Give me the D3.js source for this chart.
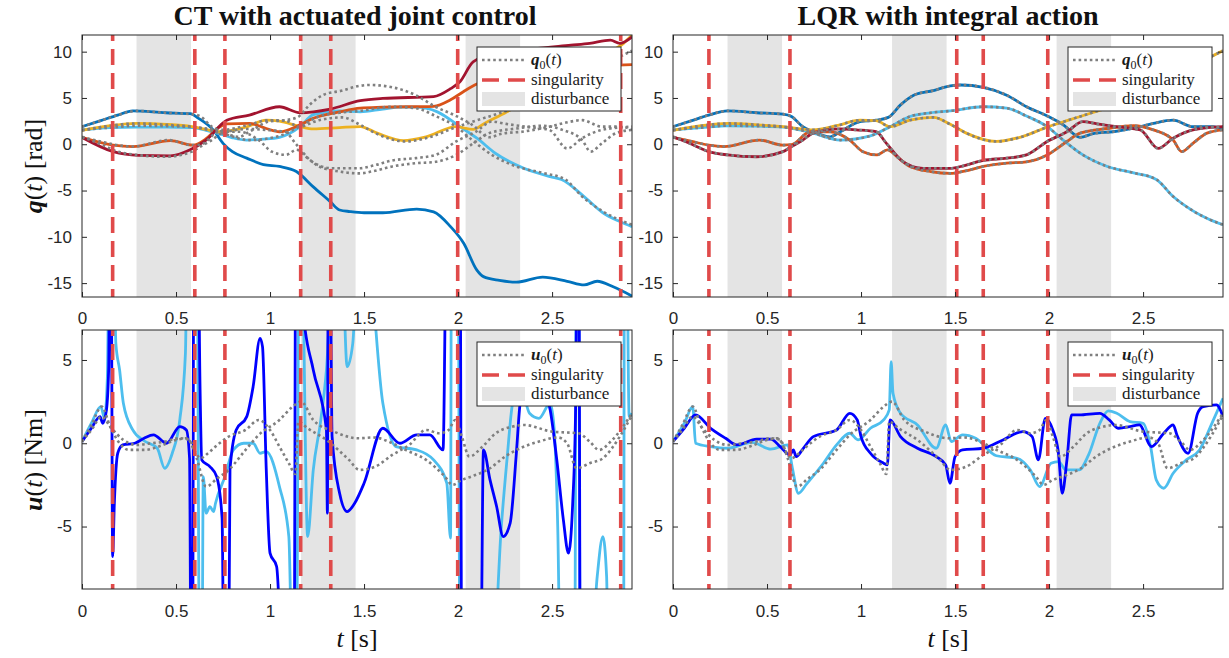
<!DOCTYPE html>
<html>
<head>
<meta charset="utf-8">
<script src="https://cdn.jsdelivr.net/npm/d3@7"></script>
<style>
  body { margin: 0; background: #fff; }
  svg { display: block; }
</style>
</head>
<body>
<svg id="chart" width="1229" height="658"></svg>
<script>
// ---------- time axis, events ----------
const tDomain = [0, 2.925];
const xTicks = [0, 0.5, 1, 1.5, 2, 2.5];
const qTicks = [-15, -10, -5, 0, 5, 10];
const uTicks = [-5, 0, 5];
const disturbances = [[0.29, 0.58], [1.165, 1.455], [2.04, 2.33]];
const singCT  = [0.163, 0.60, 0.76, 1.163, 1.323, 1.998, 2.865];
const singLQR = [0.191, 0.622, 1.509, 1.65, 1.993];

// ---------- reference joint trajectories q0(t) [rad] ----------
const q0_1 = [[0,1.9],[0.1,2.55],[0.19,3.15],[0.29,3.6],[0.445,3.4],[0.585,3.25],[0.63,3.0],[0.69,1.9],[0.745,1.35],[0.835,0.8],[0.89,1.35],[0.995,2.45],[1.08,2.6],[1.145,2.9],[1.21,4.25],[1.28,5.3],[1.385,5.8],[1.475,6.3],[1.53,6.4],[1.65,6.15],[1.775,5.3],[1.88,4.05],[1.99,3.05],[2.075,2.1],[2.165,0.75],[2.235,1.15],[2.34,1.35],[2.485,1.9],[2.555,2.25],[2.66,2.6],[2.765,1.9],[2.87,1.9],[2.925,1.55]];
const q0_2 = [[0,1.55],[0.15,1.8],[0.29,2.0],[0.45,1.95],[0.585,1.85],[0.66,1.6],[0.745,1.2],[0.89,0.45],[1.05,0.9],[1.155,1.9],[1.26,3.0],[1.37,3.4],[1.475,3.6],[1.65,4.05],[1.775,3.9],[1.88,3.05],[1.99,1.9],[2.075,0.45],[2.18,-1.15],[2.31,-2.4],[2.45,-3.1],[2.57,-3.8],[2.66,-5.65],[2.77,-7.25],[2.85,-8.1],[2.925,-8.7]];
const q0_3 = [[0,1.5],[0.15,2.0],[0.29,2.25],[0.45,2.1],[0.585,1.9],[0.745,1.55],[0.87,2.0],[0.995,2.6],[1.08,2.55],[1.155,1.9],[1.26,2.6],[1.385,2.9],[1.475,2.15],[1.56,1.2],[1.72,0.3],[1.845,0.75],[1.99,1.85],[2.095,2.55],[2.22,3.35],[2.325,4.05],[2.45,5.3],[2.6,6.9],[2.75,8.4],[2.875,9.6],[2.925,10.1]];
const q0_4 = [[0,0.75],[0.1,0.3],[0.19,-0.1],[0.27,-0.25],[0.46,0.45],[0.585,-0.1],[0.63,-0.05],[0.73,1.35],[0.835,1.35],[0.94,0.45],[1.01,-0.8],[1.085,-1.15],[1.14,-0.6],[1.2,-1.5],[1.26,-2.4],[1.37,-2.95],[1.475,-3.15],[1.55,-2.9],[1.65,-2.4],[1.775,-2.05],[1.88,-1.9],[1.99,-1.15],[2.095,0.3],[2.165,1.2],[2.31,1.7],[2.45,2.0],[2.555,1.55],[2.66,0.45],[2.705,-0.8],[2.765,0.1],[2.84,1.2],[2.925,1.55]];
const q0_5 = [[0,0.8],[0.1,0.0],[0.19,-0.8],[0.29,-1.15],[0.445,-1.35],[0.585,-0.8],[0.63,-0.25],[0.69,0.45],[0.745,1.2],[0.89,1.65],[0.975,1.55],[1.08,1.35],[1.135,0.1],[1.225,-1.9],[1.33,-2.6],[1.475,-2.6],[1.55,-2.3],[1.65,-1.75],[1.775,-1.5],[1.88,-1.15],[1.99,0.3],[2.095,1.35],[2.18,2.45],[2.255,2.2],[2.375,1.85],[2.485,1.55],[2.58,-0.45],[2.66,0.65],[2.765,1.55],[2.925,1.9]];

// ---------- CT with actuated joint control: joint angles [rad] ----------
const qCT_1 = [[0,1.9],[0.1,2.55],[0.19,3.15],[0.27,3.6],[0.445,3.4],[0.575,3.3],[0.62,2.8],[0.7,1.5],[0.75,0.1],[0.8,-0.8],[0.876,-1.5],[0.965,-2.2],[1.05,-2.4],[1.14,-2.95],[1.23,-4.6],[1.32,-6.2],[1.37,-7.1],[1.425,-7.27],[1.5,-7.4],[1.6,-7.4],[1.78,-7.0],[1.87,-7.3],[1.96,-8.9],[2.03,-10.7],[2.1,-13.6],[2.135,-14.3],[2.22,-14.7],[2.31,-14.9],[2.45,-14.35],[2.58,-14.8],[2.67,-15.2],[2.74,-14.8],[2.825,-15.4],[2.925,-16.4]];
const qCT_2 = [[0,1.55],[0.15,1.8],[0.29,1.85],[0.45,1.85],[0.585,1.8],[0.66,1.5],[0.72,1.2],[0.8,0.7],[0.876,0.45],[0.96,0.55],[1.05,0.75],[1.16,1.9],[1.23,3.2],[1.37,3.6],[1.48,3.5],[1.6,3.8],[1.69,4.0],[1.78,4.0],[1.89,3.5],[2.01,1.9],[2.1,0.65],[2.2,-1.0],[2.35,-2.6],[2.49,-3.5],[2.55,-3.8],[2.67,-5.65],[2.77,-7.4],[2.86,-8.35],[2.925,-8.9]];
const qCT_3 = [[0,1.5],[0.15,2.0],[0.29,2.25],[0.45,2.15],[0.585,1.9],[0.66,1.6],[0.72,1.35],[0.8,1.5],[0.88,1.9],[0.98,2.6],[1.05,2.5],[1.16,1.9],[1.23,1.65],[1.37,1.8],[1.48,1.9],[1.57,1.2],[1.71,0.4],[1.83,0.8],[1.99,1.9],[2.08,1.6],[2.14,2.25],[2.26,3.5],[2.31,4.1],[2.45,6.0],[2.6,7.8],[2.75,9.5],[2.88,10.9],[2.925,11.8]];
const qCT_4 = [[0,0.75],[0.166,-0.1],[0.27,-0.25],[0.47,0.4],[0.59,-0.1],[0.66,0.6],[0.72,1.7],[0.77,2.2],[0.89,2.25],[0.98,1.7],[1.05,1.35],[1.16,2.1],[1.23,2.8],[1.37,3.5],[1.48,3.9],[1.6,4.0],[1.87,4.1],[1.96,4.8],[2.03,5.7],[2.1,6.5],[2.2,7.2],[2.4,7.8],[2.6,8.2],[2.8,8.5],[2.925,8.6]];
const qCT_5 = [[0,0.75],[0.166,-0.8],[0.3,-1.2],[0.47,-1.25],[0.575,-0.6],[0.66,0.45],[0.77,2.6],[0.89,3.15],[1.05,4.05],[1.16,3.4],[1.32,3.8],[1.48,4.7],[1.6,4.95],[1.87,5.15],[1.96,6.0],[2.01,6.75],[2.08,8.9],[2.2,9.8],[2.4,10.3],[2.6,10.7],[2.7,10.9],[2.81,11.25],[2.86,10.9],[2.925,11.6]];

// ---------- LQR with integral action: joint angles track q0(t) ----------
const qLQR_1 = q0_1, qLQR_2 = q0_2, qLQR_3 = q0_3, qLQR_4 = q0_4, qLQR_5 = q0_5;

// ---------- reference torques u0(t) [Nm] ----------
const u0_1 = [[0,0.1],[0.05,1.1],[0.105,2.2],[0.15,1.0],[0.2,0.0],[0.25,-0.4],[0.33,-0.4],[0.42,-0.15],[0.5,0.2],[0.56,0.3],[0.6,-0.5],[0.63,-0.9],[0.67,-0.6],[0.72,-0.1],[0.78,0.4],[0.87,0.8],[0.94,1.4],[1.0,0.8],[1.05,-0.2],[1.1,-1.2],[1.135,-1.85],[1.15,1.3],[1.2,0.9],[1.3,0.2],[1.42,-1.0],[1.475,-1.6],[1.56,-1.4],[1.65,-0.7],[1.74,-0.1],[1.83,0.8],[1.9,0.6],[1.95,0.8],[1.985,1.4],[2.02,0.4],[2.06,-0.8],[2.13,-0.2],[2.2,0.6],[2.29,1.0],[2.35,1.1],[2.5,0.7],[2.64,0.6],[2.7,0.1],[2.75,-0.4],[2.82,0.2],[2.925,1.8]];
const u0_2 = [[0,0.1],[0.05,0.8],[0.105,1.6],[0.15,1.0],[0.22,0.2],[0.29,-0.1],[0.37,0.0],[0.44,0.1],[0.52,0.3],[0.57,0.2],[0.61,-0.9],[0.66,-2.6],[0.72,-2.1],[0.78,-1.6],[0.87,-0.4],[0.94,0.5],[1.05,1.4],[1.12,2.2],[1.165,2.5],[1.23,1.4],[1.34,0.7],[1.47,0.3],[1.55,0.35],[1.65,0.0],[1.72,-0.4],[1.83,-1.0],[1.93,-2.0],[1.97,-2.5],[2.02,-2.2],[2.07,-2.0],[2.17,-1.5],[2.25,-0.8],[2.33,-0.3],[2.43,0.1],[2.53,0.35],[2.58,0.0],[2.63,-1.5],[2.7,-1.2],[2.77,-0.9],[2.86,0.4],[2.925,1.7]];

// ---------- CT torques [Nm] (leave the plotted range near singularities) ----------
const uCT_1 = [[0,0.1],[0.05,0.9],[0.096,1.6],[0.11,1.2],[0.13,2.0],[0.142,4.5],[0.148,12],[0.155,12],[0.163,-6.8],[0.172,-3.6],[0.19,-0.6],[0.217,-0.1],[0.28,0.0],[0.33,0.3],[0.38,0.5],[0.45,0.0],[0.52,1.0],[0.555,0.8],[0.572,-0.9],[0.58,-14],[0.588,-14],[0.595,14],[0.615,14],[0.628,3.2],[0.637,-1.0],[0.68,-1.4],[0.716,-2.0],[0.745,-4.5],[0.755,-14],[0.78,-14],[0.787,-1.6],[0.82,0.8],[0.876,1.6],[0.91,3.4],[0.947,6.3],[0.96,5.8],[0.98,-1.6],[1.0,-6.6],[1.035,-7.4],[1.07,-14],[1.128,-14],[1.137,14],[1.165,14],[1.175,8],[1.23,4.4],[1.3,0.8],[1.305,-4.2],[1.31,14],[1.318,14],[1.33,0.4],[1.37,-3.0],[1.41,-4.1],[1.45,-3.6],[1.5,-2.4],[1.6,0.9],[1.69,0.0],[1.78,0.5],[1.85,0.5],[1.92,-0.4],[1.94,14],[2.01,14],[2.02,-14],[2.12,-14],[2.135,-0.4],[2.17,-2.2],[2.205,-3.8],[2.24,-5.6],[2.277,-4.8],[2.31,-0.6],[2.33,2.4],[2.38,4.5],[2.44,3.5],[2.49,2.0],[2.525,-1.0],[2.56,-4.6],[2.587,-6.6],[2.61,-3.5],[2.625,2],[2.635,14],[2.642,14],[2.65,-14],[2.925,-14]];
const uCT_2 = [[0,0.1],[0.05,1.2],[0.1,2.2],[0.12,1.5],[0.135,4],[0.145,12],[0.168,12],[0.18,6.0],[0.2,4.4],[0.22,2.4],[0.27,0.8],[0.33,0.15],[0.4,-0.3],[0.44,-1.5],[0.48,-0.6],[0.52,1.4],[0.55,5.4],[0.56,12],[0.612,12],[0.625,-14],[0.638,-14],[0.645,-2.0],[0.66,-4.2],[0.68,-3.8],[0.7,-4.1],[0.71,-3.6],[0.76,-2.0],[0.805,-0.4],[0.86,0.0],[0.91,0.0],[0.947,-0.6],[0.98,-0.5],[1.05,-2.6],[1.1,-5.6],[1.12,-14],[1.14,-14],[1.155,12],[1.168,12],[1.2,-5.6],[1.23,-1.6],[1.27,1.4],[1.3,4.4],[1.34,12],[1.38,12],[1.41,4.6],[1.44,6.0],[1.47,12],[1.51,12],[1.6,2.4],[1.67,-0.2],[1.78,-0.4],[1.87,-1.0],[1.94,-2.4],[1.96,-5.7],[1.965,14],[2.0,14],[2.01,-14],[2.18,-14],[2.23,-5],[2.26,-1.0],[2.29,2.4],[2.33,3.5],[2.38,1.8],[2.43,1.5],[2.49,2.4],[2.51,1.0],[2.53,-5],[2.545,-14],[2.62,-14],[2.63,14],[2.64,14],[2.65,-14],[2.7,-14],[2.74,-8],[2.77,-5.6],[2.79,-8],[2.8,-14],[2.88,-14],[2.885,14],[2.895,14],[2.91,1.6],[2.925,1.8]];

// ---------- LQR torques [Nm] ----------
const uLQR_1 = [[0,0.1],[0.06,0.9],[0.12,1.7],[0.2,0.9],[0.28,0.3],[0.34,-0.1],[0.445,0.25],[0.52,0.25],[0.57,-0.2],[0.622,-0.7],[0.64,-0.4],[0.655,-0.8],[0.69,-0.35],[0.746,0.4],[0.87,0.8],[0.94,1.8],[0.98,1.4],[1.0,0.4],[1.05,-0.6],[1.12,-1.2],[1.14,-1.3],[1.154,1.4],[1.21,0.4],[1.3,-0.3],[1.4,-0.8],[1.45,-1.3],[1.473,-2.4],[1.5,-0.8],[1.54,-0.4],[1.65,-0.3],[1.755,0.2],[1.86,0.7],[1.91,0.4],[1.943,-1.0],[1.98,1.5],[2.02,0.8],[2.05,-0.6],[2.07,-3.0],[2.095,-1.0],[2.12,1.7],[2.16,1.7],[2.27,1.8],[2.32,1.4],[2.37,0.9],[2.43,1.0],[2.48,1.1],[2.545,-0.2],[2.61,0.6],[2.66,1.1],[2.68,0.5],[2.74,-0.6],[2.79,1.8],[2.82,2.2],[2.89,2.3],[2.925,1.6]];
const uLQR_2 = [[0,0.1],[0.06,1.2],[0.105,2.2],[0.12,0.0],[0.2,-0.2],[0.29,-0.3],[0.42,0.05],[0.52,-0.35],[0.61,-0.1],[0.635,-1.5],[0.667,-3.0],[0.71,-2.45],[0.8,-1.2],[0.87,-0.1],[0.94,0.6],[0.985,0.2],[1.05,0.9],[1.12,1.4],[1.15,2.0],[1.16,4.9],[1.17,3.0],[1.21,1.8],[1.3,1.1],[1.4,-0.3],[1.45,1.1],[1.48,0.1],[1.54,0.5],[1.61,0.3],[1.72,-0.75],[1.83,-0.9],[1.9,-1.6],[1.95,-2.6],[2.01,-1.2],[2.05,-1.1],[2.09,-1.6],[2.16,-1.6],[2.21,-0.7],[2.27,1.2],[2.315,1.95],[2.36,1.8],[2.43,1.3],[2.5,1.2],[2.54,-0.2],[2.57,-2.2],[2.61,-2.7],[2.66,-1.8],[2.73,-1.0],[2.8,-0.4],[2.87,1.3],[2.925,2.7]];

// ---------- styling ----------
const C = {
  blue: '#0072BD', lightBlue: '#4DBEEE', yellow: '#EDB120', orange: '#D95319', darkRed: '#A2142F',
  pureBlue: '#0000FF', ref: '#7f7f7f', sing: '#e04a4a', dist: '#e4e4e4', frame: '#262626'
};
const tickFont = '"Liberation Sans Narrow","Liberation Sans",Arial,sans-serif';
const serifFont = '"Liberation Serif","DejaVu Serif",serif';

const svg = d3.select('#chart');
const defs = svg.append('defs');

const panels = [
  { id: 'qct',  x0: 82,  x1: 632,  y0: 35,  y1: 297, yDomain: [-16.5, 11.8], yTicks: qTicks, sing: singCT,
    solid: [[qCT_1, C.blue], [qCT_2, C.lightBlue], [qCT_3, C.yellow], [qCT_4, C.orange], [qCT_5, C.darkRed]],
    refs: [q0_1, q0_2, q0_3, q0_4, q0_5], sym: 'q', xPad: 15 },
  { id: 'qlqr', x0: 673, x1: 1223, y0: 35,  y1: 297, yDomain: [-16.5, 11.8], yTicks: qTicks, sing: singLQR,
    solid: [[qLQR_1, C.blue], [qLQR_2, C.lightBlue], [qLQR_3, C.yellow], [qLQR_4, C.orange], [qLQR_5, C.darkRed]],
    refs: [q0_1, q0_2, q0_3, q0_4, q0_5], sym: 'q', xPad: 15 },
  { id: 'uct',  x0: 82,  x1: 632,  y0: 330, y1: 589, yDomain: [-8.75, 6.8], yTicks: uTicks, sing: singCT,
    solid: [[uCT_2, C.lightBlue], [uCT_1, C.pureBlue]],
    refs: [u0_1, u0_2], sym: 'u', xPad: 16 },
  { id: 'ulqr', x0: 673, x1: 1223, y0: 330, y1: 589, yDomain: [-8.75, 6.8], yTicks: uTicks, sing: singLQR,
    solid: [[uLQR_2, C.lightBlue], [uLQR_1, C.pureBlue]],
    refs: [u0_1, u0_2], sym: 'u', xPad: 16 }
];

function styleAxis(g, withText) {
  g.select('.domain').remove();
  g.selectAll('.tick line').attr('stroke', C.frame).attr('stroke-width', 1);
  g.attr('font-family', tickFont).attr('font-size', 17);
  g.selectAll('.tick text').attr('fill', '#262626');
  if (!withText) g.selectAll('.tick text').remove();
}

function drawPanel(p) {
  const x = d3.scaleLinear().domain(tDomain).range([p.x0, p.x1]);
  const y = d3.scaleLinear().domain(p.yDomain).range([p.y1, p.y0]);
  const clipId = 'clip-' + p.id;
  defs.append('clipPath').attr('id', clipId).append('rect')
    .attr('x', p.x0).attr('y', p.y0).attr('width', p.x1 - p.x0).attr('height', p.y1 - p.y0);

  const plot = svg.append('g').attr('clip-path', `url(#${clipId})`);

  // disturbance intervals
  plot.selectAll('rect.dist').data(disturbances).join('rect').attr('class', 'dist')
    .attr('x', d => x(d[0])).attr('width', d => x(d[1]) - x(d[0]))
    .attr('y', p.y0).attr('height', p.y1 - p.y0).attr('fill', C.dist);

  const line = d3.line().x(d => x(d[0])).y(d => y(d[1])).curve(d3.curveMonotoneX);

  // measured trajectories
  p.solid.forEach(([data, color]) => {
    plot.append('path').attr('d', line(data)).attr('fill', 'none')
      .attr('stroke', color).attr('stroke-width', 2.8).attr('stroke-linejoin', 'round');
  });
  // references
  p.refs.forEach(data => {
    plot.append('path').attr('d', line(data)).attr('fill', 'none')
      .attr('stroke', C.ref).attr('stroke-width', 2.6).attr('stroke-dasharray', '2.6,3');
  });
  // singularity instants
  plot.selectAll('line.sing').data(p.sing).join('line').attr('class', 'sing')
    .attr('x1', d => x(d)).attr('x2', d => x(d)).attr('y1', p.y0).attr('y2', p.y1)
    .attr('stroke', C.sing).attr('stroke-width', 3.6).attr('stroke-dasharray', '16,8').attr('stroke-dashoffset', 10);

  // axes with inward ticks on all four sides
  const gl = svg.append('g').attr('transform', `translate(${p.x0},0)`)
    .call(d3.axisLeft(y).tickValues(p.yTicks).tickSize(-5).tickPadding(10).tickFormat(d => String(d)));
  styleAxis(gl, true);
  const gr = svg.append('g').attr('transform', `translate(${p.x1},0)`)
    .call(d3.axisRight(y).tickValues(p.yTicks).tickSize(-5).tickFormat(''));
  styleAxis(gr, false);
  const gb = svg.append('g').attr('transform', `translate(0,${p.y1})`)
    .call(d3.axisBottom(x).tickValues(xTicks).tickSize(-5).tickPadding(p.xPad).tickFormat(d => String(d)));
  styleAxis(gb, true);
  const gt = svg.append('g').attr('transform', `translate(0,${p.y0})`)
    .call(d3.axisTop(x).tickValues(xTicks).tickSize(-5).tickFormat(''));
  styleAxis(gt, false);

  svg.append('rect').attr('x', p.x0).attr('y', p.y0)
    .attr('width', p.x1 - p.x0).attr('height', p.y1 - p.y0)
    .attr('fill', 'none').attr('stroke', C.frame).attr('stroke-width', 1);

  drawLegend(p.x1 - 155, p.y0 + 12, p.sym);
}

function drawLegend(lx, ly, sym) {
  const g = svg.append('g').attr('transform', `translate(${lx},${ly})`)
    .attr('font-family', serifFont).attr('font-size', 17).attr('fill', '#1a1a1a');
  g.append('rect').attr('width', 144).attr('height', 64)
    .attr('fill', '#fff').attr('stroke', C.frame).attr('stroke-width', 1);
  g.append('line').attr('x1', 5).attr('x2', 48).attr('y1', 13).attr('y2', 13)
    .attr('stroke', C.ref).attr('stroke-width', 2.6).attr('stroke-dasharray', '2.6,3');
  g.append('line').attr('x1', 5).attr('x2', 48).attr('y1', 33).attr('y2', 33)
    .attr('stroke', C.sing).attr('stroke-width', 3.6).attr('stroke-dasharray', '17,9');
  g.append('rect').attr('x', 5).attr('y', 45).attr('width', 43).attr('height', 14).attr('fill', C.dist);

  const t1 = g.append('text').attr('x', 54).attr('y', 18);
  t1.append('tspan').attr('font-weight', 'bold').attr('font-style', 'italic').text(sym);
  t1.append('tspan').attr('font-size', 12).attr('dy', 4).text('0');
  t1.append('tspan').attr('dy', -4).text('(');
  t1.append('tspan').attr('font-style', 'italic').text('t');
  t1.append('tspan').text(')');
  g.append('text').attr('x', 54).attr('y', 38).text('singularity');
  g.append('text').attr('x', 54).attr('y', 57).text('disturbance');
}

panels.forEach(drawPanel);

// titles
[['CT with actuated joint control', 355], ['LQR with integral action', 948]].forEach(([s, cx]) => {
  svg.append('text').attr('x', cx).attr('y', 25).attr('text-anchor', 'middle')
    .attr('font-family', serifFont).attr('font-weight', 'bold').attr('font-size', 28)
    .attr('fill', '#111').text(s);
});

// y-axis labels
function yLabel(sym, unit, cy) {
  const t = svg.append('text').attr('transform', `translate(42,${cy}) rotate(-90)`)
    .attr('text-anchor', 'middle').attr('font-family', serifFont).attr('font-size', 26).attr('fill', '#111');
  t.append('tspan').attr('font-weight', 'bold').attr('font-style', 'italic').text(sym);
  t.append('tspan').text('(');
  t.append('tspan').attr('font-style', 'italic').text('t');
  t.append('tspan').text(') ' + unit);
}
yLabel('q', '[rad]', 166);
yLabel('u', '[Nm]', 460);

// x-axis labels
[357, 948].forEach(cx => {
  const t = svg.append('text').attr('x', cx).attr('y', 647).attr('text-anchor', 'middle')
    .attr('font-family', serifFont).attr('font-size', 26).attr('fill', '#111');
  t.append('tspan').attr('font-style', 'italic').text('t');
  t.append('tspan').text(' [s]');
});
</script>
</body>
</html>
